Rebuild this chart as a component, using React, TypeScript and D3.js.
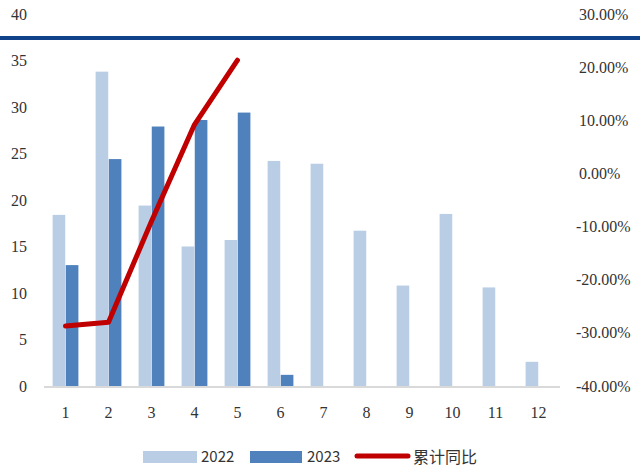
import React from "react";
import * as d3 from "d3";

const months = ["1", "2", "3", "4", "5", "6", "7", "8", "9", "10", "11", "12"];
const values2022 = [18.4, 33.8, 19.4, 15.0, 15.7, 24.2, 23.9, 16.7, 10.8, 18.5, 10.6, 2.6];
const values2023 = [13.0, 24.4, 27.9, 28.6, 29.4, 1.2];
const cumYoY = [-28.7, -28.0, -9.0, 9.2, 21.3];
const leftTicks = [0, 5, 10, 15, 20, 25, 30, 35, 40];
const rightTicks = [-40, -30, -20, -10, 0, 10, 20, 30];
const seriesNames = ["2022", "2023", "累计同比"];

const W = 640;
const H = 470;
const C22 = "#b9cde5";
const C23 = "#4f81bd";
const CLINE = "#c00000";

export default function App() {
  const x = d3.scaleBand<string>().domain(months).range([44, 560]).paddingInner(0.4).paddingOuter(0.2);
  const xGroup = d3.scaleBand<string>().domain(["a", "b"]).range([0, x.bandwidth()]).paddingInner(0.04);
  const yL = d3.scaleLinear().domain([0, 40]).range([386, 14]);
  const yR = d3.scaleLinear().domain([-40, 30]).range([386, 14]);
  const cx = (m: string) => (x(m) as number) + x.bandwidth() / 2;

  const line = d3
    .line<number>()
    .x((_, i) => cx(months[i]))
    .y((d) => yR(d));

  const serif = "'Liberation Serif', 'Times New Roman', serif";
  const cjk = "'Noto Sans CJK SC', sans-serif";

  return (
    <svg
      width={W}
      height={H}
      style={{ position: "absolute", left: 0, top: 0, background: "#fff" }}
    >
      {/* bars */}
      {values2022.map((v, i) => (
        <rect
          key={"a" + i}
          x={(x(months[i]) as number) + (xGroup("a") as number)}
          y={yL(v)}
          width={xGroup.bandwidth()}
          height={yL(0) - yL(v)}
          fill={C22}
        />
      ))}
      {values2023.map((v, i) => (
        <rect
          key={"b" + i}
          x={(x(months[i]) as number) + (xGroup("b") as number)}
          y={yL(v)}
          width={xGroup.bandwidth()}
          height={yL(0) - yL(v)}
          fill={C23}
        />
      ))}
      {/* baseline */}
      <line x1={44} x2={560} y1={387} y2={387} stroke="#d9d9d9" strokeWidth={2} />
      {/* line */}
      <path
        d={line(cumYoY) || ""}
        fill="none"
        stroke={CLINE}
        strokeWidth={5}
        strokeLinecap="round"
        strokeLinejoin="round"
      />
      {/* left ticks */}
      {leftTicks.map((t) => (
        <text
          key={"l" + t}
          x={27}
          y={yL(t)}
          dy="0.35em"
          textAnchor="end"
          fontFamily={serif}
          fontSize={16}
          fill="#333"
        >
          {t}
        </text>
      ))}
      {/* right ticks */}
      {rightTicks.map((t) => (
        <text
          key={"r" + t}
          x={t < 0 ? 576 : 579}
          y={yR(t)}
          dy="0.35em"
          textAnchor="start"
          fontFamily={serif}
          fontSize={16}
          fill="#333"
        >
          {t.toFixed(2) + "%"}
        </text>
      ))}
      {/* x labels */}
      {months.map((m) => (
        <text
          key={"x" + m}
          x={cx(m)}
          y={412}
          dy="0.35em"
          textAnchor="middle"
          fontFamily={serif}
          fontSize={16}
          fill="#333"
        >
          {m}
        </text>
      ))}
      {/* header rule */}
      <rect x={0} y={36} width={W} height={4} fill="#0f4288" />
      {/* legend */}
      <rect x={143} y={451} width={54} height={12} fill={C22} />
      <text x={201} y={457} dy="0.35em" fontFamily={cjk} fontSize={15} fill="#333">
        {seriesNames[0]}
      </text>
      <rect x={250} y={451} width={52} height={12} fill={C23} />
      <text x={307} y={457} dy="0.35em" fontFamily={cjk} fontSize={15} fill="#333">
        {seriesNames[1]}
      </text>
      <line x1={357} x2={408} y1={456} y2={456} stroke={CLINE} strokeWidth={5} strokeLinecap="round" />
      <text x={413} y={457} dy="0.35em" fontFamily={cjk} fontSize={16} fill="#333">
        {seriesNames[2]}
      </text>
    </svg>
  );
}
